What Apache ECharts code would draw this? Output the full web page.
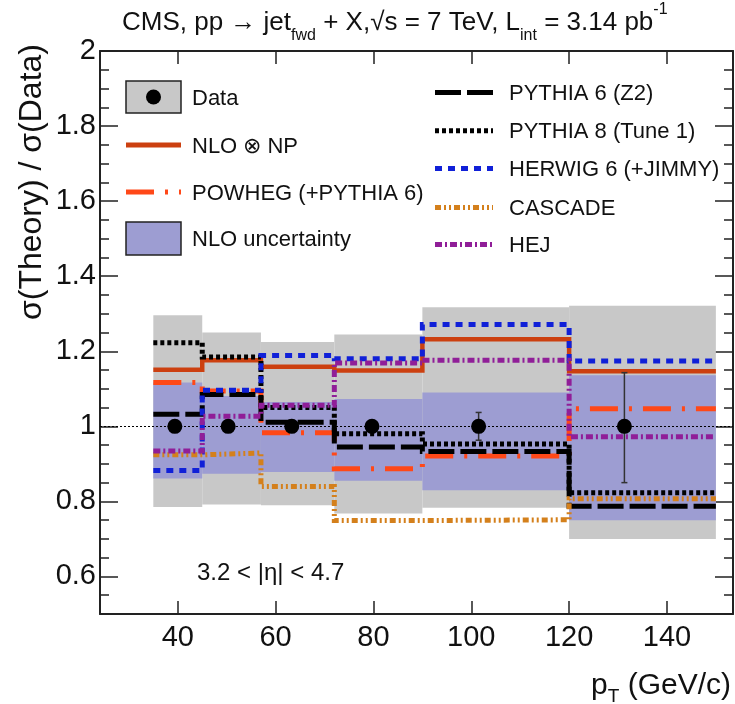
<!DOCTYPE html>
<html><head><meta charset="utf-8">
<script src="https://cdn.jsdelivr.net/npm/echarts@6/dist/echarts.min.js"></script>
<style>html,body{margin:0;padding:0;background:#fff}#c{width:735px;height:704px}</style>
</head><body><div id="c"></div>
<script>
// ---- data ----
const binEdges = [35, 45, 57, 72, 90, 120, 150];
const dataX = [39.4, 50.3, 63.3, 79.7, 101.5, 131.3];
const dataY = [1, 1, 1, 1, 1, 1];
const dataErrUp = [0.01, 0.01, 0.01, 0.01, 0.037, 0.143];
const dataErrDown = [0.01, 0.01, 0.01, 0.01, 0.037, 0.15];
const expLow = [0.785, 0.792, 0.79, 0.768, 0.783, 0.70];
const expHigh = [1.296, 1.25, 1.225, 1.245, 1.317, 1.321];
const nloLow = [0.861, 0.874, 0.878, 0.855, 0.83, 0.75];
const nloHigh = [1.117, 1.081, 1.065, 1.073, 1.09, 1.136];
const nloNP = [1.151, 1.176, 1.159, 1.149, 1.232, 1.147];
const powheg = [1.117, 1.094, 0.983, 0.887, 0.921, 1.047];
const pythia6 = [1.032, 1.085, 1.011, 0.945, 0.933, 0.787];
const pythia8 = [1.223, 1.185, 1.05, 0.98, 0.953, 0.823];
const herwig = [0.882, 1.096, 1.189, 1.18, 1.271, 1.174];
const cascade = [0.924, 0.929, 0.84, 0.749, 0.751, 0.807];
const hej = [0.934, 1.027, 1.056, 1.169, 1.176, 0.972];
const xTicks = [40, 60, 80, 100, 120, 140];
const yTicks = [0.6, 0.8, 1.0, 1.2, 1.4, 1.6, 1.8, 2.0];
const leftNames = ['Data', 'NLO \u2297 NP', 'POWHEG (+PYTHIA 6)', 'NLO uncertainty'];
const rightNames = ['PYTHIA 6 (Z2)', 'PYTHIA 8 (Tune 1)', 'HERWIG 6 (+JIMMY)', 'CASCADE', 'HEJ'];

// ---- styles ----
const FONT = 'Liberation Sans, Arial, Helvetica, sans-serif';
const C = {
  gray: '#c8c8c8', band: '#9d9dd2', nlo: '#cc4010', pow: '#ff4818',
  her: '#1020d8', cas: '#d4801c', hej: '#901e98', blk: '#000'
};
const lineDefs = [
  { name: leftNames[1], vals: nloNP, color: C.nlo, dash: 'solid', w: 4.5 },
  { name: leftNames[2], vals: powheg, color: C.pow, dash: [28, 11, 3, 11], w: 5 },
  { name: rightNames[0], vals: pythia6, color: C.blk, dash: [26, 6], w: 5 },
  { name: rightNames[1], vals: pythia8, color: C.blk, dash: [4, 3], w: 5 },
  { name: rightNames[2], vals: herwig, color: C.her, dash: [7, 6], w: 5 },
  { name: rightNames[3], vals: cascade, color: C.cas, dash: [6, 3, 2, 3, 2, 3], w: 5 },
  { name: rightNames[4], vals: hej, color: C.hej, dash: [7, 3, 2, 3], w: 5 }
];

function steps(vals) {
  const pts = [];
  vals.forEach((v, i) => { pts.push([binEdges[i], v]); pts.push([binEdges[i + 1], v]); });
  return pts;
}
function bandData(lo, hi) {
  return lo.map((l, i) => [binEdges[i], binEdges[i + 1], l, hi[i]]);
}
function bandSeries(name, lo, hi, color, z) {
  return {
    type: 'custom', name, z, silent: true,
    encode: { x: [0, 1], y: [2, 3] },
    data: bandData(lo, hi),
    renderItem(params, api) {
      const p0 = api.coord([api.value(0), api.value(3)]);
      const p1 = api.coord([api.value(1), api.value(2)]);
      return { type: 'rect', shape: { x: p0[0], y: p0[1], width: p1[0] - p0[0], height: p1[1] - p0[1] }, style: { fill: color } };
    }
  };
}

const series = [];
series.push(bandSeries('Data uncertainty', expLow, expHigh, C.gray, 1));
series.push(bandSeries(leftNames[3], nloLow, nloHigh, C.band, 2));
lineDefs.forEach((d, k) => {
  const s = {
    type: 'line', name: d.name, data: steps(d.vals), symbol: 'none', z: 4 + k,
    lineStyle: { color: d.color, width: d.w, type: d.dash, cap: 'butt', join: 'miter' },
    silent: true
  };
  if (k === 0) {
    s.markLine = {
      silent: true, symbol: 'none', label: { show: false },
      lineStyle: { color: '#000', width: 1, type: [2, 2] },
      data: [{ yAxis: 1 }]
    };
  }
  series.push(s);
});
series.push({
  type: 'custom', name: 'err', z: 20, silent: true,
  encode: { x: 0, y: [1, 2, 3] },
  data: dataX.map((x, i) => [x, dataY[i], dataY[i] - dataErrDown[i], dataY[i] + dataErrUp[i]]),
  renderItem(params, api) {
    const pt = api.coord([api.value(0), api.value(3)]);
    const pb = api.coord([api.value(0), api.value(2)]);
    const st = { stroke: '#333', lineWidth: 1.5 };
    return {
      type: 'group', children: [
        { type: 'line', shape: { x1: pt[0], y1: pt[1], x2: pb[0], y2: pb[1] }, style: st },
        { type: 'line', shape: { x1: pt[0] - 3, y1: pt[1], x2: pt[0] + 3, y2: pt[1] }, style: st },
        { type: 'line', shape: { x1: pb[0] - 3, y1: pb[1], x2: pb[0] + 3, y2: pb[1] }, style: st }
      ]
    };
  }
});
series.push({
  type: 'scatter', name: leftNames[0], z: 21, symbol: 'circle', symbolSize: 15,
  itemStyle: { color: '#000', opacity: 1 },
  data: dataX.map((x, i) => [x, dataY[i]])
});

// ---- legend graphics ----
const g = [];
const lx0 = 126, lx1 = 181, ltx = 192;
const lys = [97, 145, 192, 238.5];
g.push({ type: 'rect', shape: { x: lx0, y: lys[0] - 16, width: lx1 - lx0, height: 32 }, style: { fill: C.gray, stroke: '#222', lineWidth: 1.5 } });
g.push({ type: 'circle', shape: { cx: (lx0 + lx1) / 2, cy: lys[0], r: 7.5 }, style: { fill: '#000' } });
g.push({ type: 'line', shape: { x1: lx0, y1: lys[1], x2: lx1, y2: lys[1] }, style: { stroke: C.nlo, lineWidth: 5 } });
g.push({ type: 'line', shape: { x1: lx0, y1: lys[2], x2: lx1, y2: lys[2] }, style: { stroke: C.pow, lineWidth: 5, lineDash: [28, 11, 3, 11] } });
g.push({ type: 'rect', shape: { x: lx0, y: lys[3] - 16.5, width: lx1 - lx0, height: 33 }, style: { fill: C.band, stroke: '#222', lineWidth: 1.5 } });
leftNames.forEach((n, i) => g.push({ type: 'text', x: ltx, y: lys[i] + 1.5, style: { text: n, font: '22px ' + FONT, fill: '#111', textVerticalAlign: 'middle' } }));
const rx0 = 435, rx1 = 493, rtx = 509;
const rys = [92.5, 130.7, 168.5, 207.5, 244.5];
lineDefs.slice(2).forEach((d, i) => {
  g.push({ type: 'line', shape: { x1: rx0, y1: rys[i], x2: rx1, y2: rys[i] }, style: { stroke: d.color, lineWidth: 5, lineDash: d.dash } });
  g.push({ type: 'text', x: rtx, y: rys[i] + 1, style: { text: d.name, font: '22px ' + FONT, fill: '#111', textVerticalAlign: 'middle' } });
});
// title
g.push({
  type: 'text', x: 122, y: 23,
  style: {
    text: '{t|CMS, pp \u2192 jet}{s|fwd}{t| + X,\u221As = 7 TeV, L}{s|int}{t| = 3.14 pb}{p|-1}',
    textVerticalAlign: 'middle', fill: '#111',
    rich: {
      t: { font: '26px ' + FONT, lineHeight: 42, verticalAlign: 'middle', fill: '#111' },
      s: { font: '16px ' + FONT, lineHeight: 18, verticalAlign: 'bottom', fill: '#111' },
      p: { font: '16px ' + FONT, lineHeight: 22, verticalAlign: 'top', fill: '#111' }
    }
  }
});
// y axis title
g.push({ type: 'text', x: 32, y: 182, rotation: Math.PI / 2, style: { text: '\u03C3(Theory) / \u03C3(Data)', font: '32px ' + FONT, fill: '#111', textAlign: 'center', textVerticalAlign: 'middle' } });
// x axis title
g.push({
  type: 'text', x: 731, y: 686,
  style: {
    text: '{a|p}{b|T}{a| (GeV/c)}', textAlign: 'right', textVerticalAlign: 'middle', fill: '#111',
    rich: {
      a: { font: '30px ' + FONT, lineHeight: 40, verticalAlign: 'middle', fill: '#111' },
      b: { font: '19px ' + FONT, lineHeight: 20, verticalAlign: 'bottom', fill: '#111' }
    }
  }
});
// eta label
g.push({ type: 'text', x: 197, y: 573, style: { text: '3.2 < |\u03B7| < 4.7', font: '24px ' + FONT, fill: '#111', textVerticalAlign: 'middle' } });

// ---- axes ----
const axLine = { show: true, lineStyle: { color: '#222', width: 2 } };
const xMin = 24.1, xMax = 153.5, yMin = 0.5, yMax = 2;
function xAx(pos, labels) {
  return {
    type: 'value', position: pos, min: xMin, max: xMax, splitLine: { show: false },
    axisLine: axLine,
    axisTick: { show: true, inside: true, length: 13, customValues: xTicks, lineStyle: { color: '#222', width: 1.5 } },
    axisLabel: labels ? { show: true, customValues: xTicks, fontSize: 29, fontFamily: FONT, color: '#111', margin: 9 } : { show: false }
  };
}
function yAx(pos, major, labels) {
  const a = {
    type: 'value', position: pos, min: yMin, max: yMax, splitLine: { show: false },
    axisLine: major ? axLine : { show: false },
    axisLabel: { show: false }
  };
  if (major) {
    a.axisTick = { show: true, inside: true, length: 18, customValues: yTicks, lineStyle: { color: '#222', width: 1.5 } };
    if (labels) a.axisLabel = {
      show: true, customValues: yTicks, fontSize: 29, fontFamily: FONT, color: '#111', margin: 4,
      formatter: v => String(Math.round(v * 10) / 10)
    };
  } else {
    a.interval = 0.05;
    a.axisTick = { show: true, inside: true, length: 9, lineStyle: { color: '#222', width: 1.5 } };
  }
  return a;
}

const chart = echarts.init(document.getElementById('c'), null, { renderer: 'canvas' });
chart.setOption({
  animation: false,
  backgroundColor: '#fff',
  grid: { left: 100, right: 2, top: 51, bottom: 90 },
  xAxis: [xAx('bottom', true), xAx('top', false)],
  yAxis: [yAx('left', true, true), yAx('left', false), yAx('right', true, false), yAx('right', false)],
  series,
  graphic: { elements: g }
});
</script>
</body></html>
